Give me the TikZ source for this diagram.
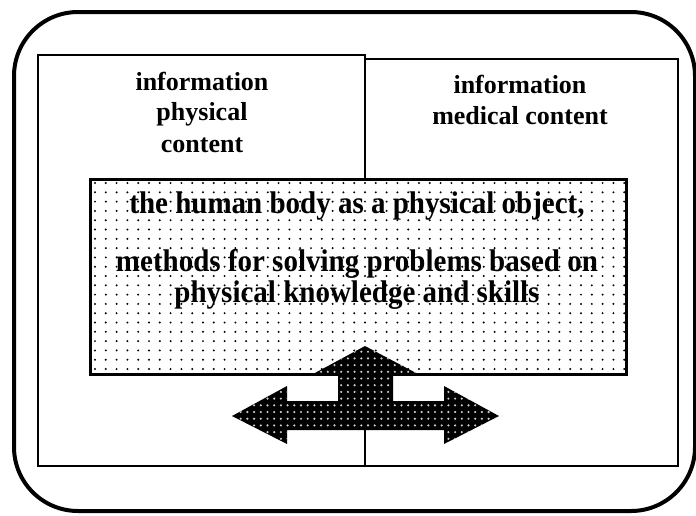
\documentclass[tikz,border=0pt]{standalone}
\usepackage{fontspec}
\usepackage{graphicx}
\setmainfont{Liberation Serif}
\newcommand{\tallbox}[1]{\scalebox{1}[1.08]{#1}}
\begin{document}
\begin{tikzpicture}[x=1pt,y=-1pt,
  frame/.style={draw=black,line width=4pt,rounded corners=64pt},
  panel/.style={draw=black,line width=1.8pt},
  core/.style={draw=black,line width=3pt},
  ttl/.style={font=\bfseries\fontsize{26}{30}\selectfont,align=center,anchor=base,inner sep=0pt},
  ctr/.style={font=\bfseries\fontsize{29}{31}\selectfont,align=center,anchor=base,inner sep=0pt}]
\useasboundingbox (0,0) rectangle (696,515);
% outer frame
\draw[frame] (14,12) rectangle (695,511);
% panels
\draw[panel] (38,55) rectangle (365,466);
\draw[panel] (365,59) rectangle (678,466);
% titles
\node[ttl] (lt1) at (202,90) {information};
\node[ttl] (lt2) at (202,120) {physical};
\node[ttl] (lt3) at (202,152) {content};
\node[ttl] (rt1) at (520,93) {information};
\node[ttl] (rt2) at (520,124) {medical content};
% central dotted box
\fill[white] (90,179) rectangle (626,374);
\begin{scope}
  \clip (90,179) rectangle (626,374);
  \foreach \i in {0,...,50} {
    \foreach \j in {0,...,21} {
      \fill[black] (95+\i*10.8, 183+\j*9.3) circle (1.1);
    }
  }
\end{scope}
% arrow
\path[fill=black] (365,346) -- (418,374) -- (393,374) -- (393,401) -- (444,401)
  -- (444,386) -- (499,416) -- (444,444) -- (444,430) -- (287,430) -- (287,444)
  -- (232,416) -- (287,386) -- (287,401) -- (338,401) -- (338,374) -- (313,374) -- cycle;
\begin{scope}
  \clip (365,346) -- (418,374) -- (393,374) -- (393,401) -- (444,401)
  -- (444,386) -- (499,416) -- (444,444) -- (444,430) -- (287,430) -- (287,444)
  -- (232,416) -- (287,386) -- (287,401) -- (338,401) -- (338,374) -- (313,374) -- cycle;
  \foreach \i in {0,...,40} {
    \foreach \j in {0,...,16} {
      \fill[white!80!black] (234+\i*6.7, 345+\j*6.7) circle (1.2);
    }
  }
\end{scope}
\draw[core] (90,179) rectangle (626,374);
\node[ctr] (c1) at (357,213) {\tallbox{the human body as a physical object,}};
\node[ctr] (c2) at (357,271) {\tallbox{methods for solving problems based on}};
\node[ctr] (c3) at (357,302) {\tallbox{physical knowledge and skills}};
\end{tikzpicture}
\end{document}
